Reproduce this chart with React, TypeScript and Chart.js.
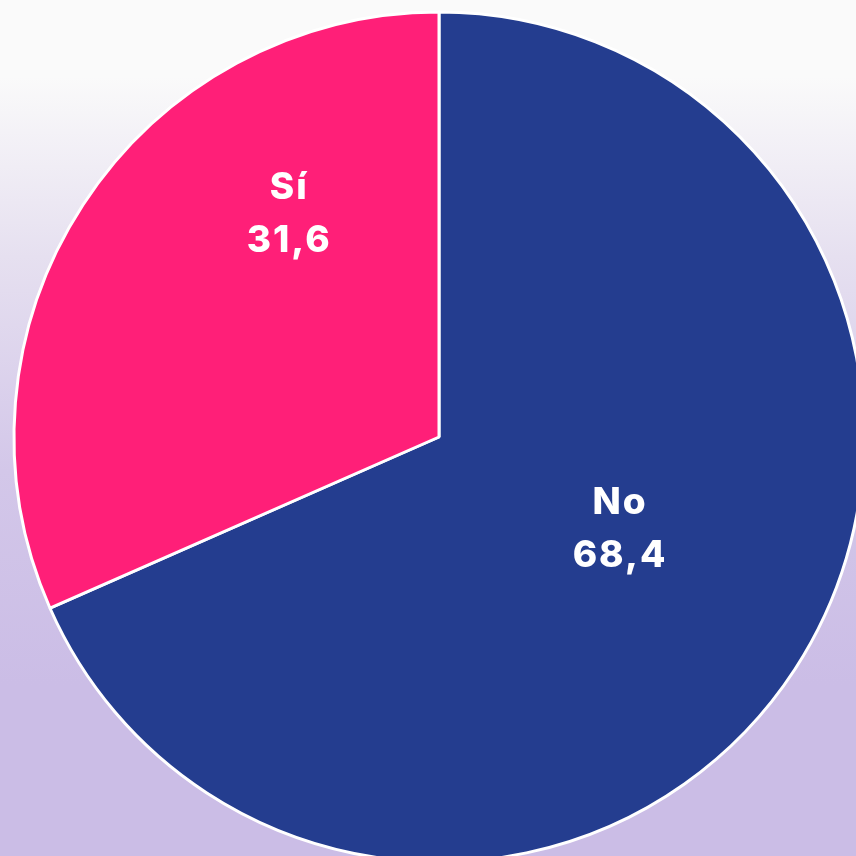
import React, { useEffect, useRef } from "react";
import { Chart, registerables } from "chart.js";

Chart.register(...registerables);

const categories = ["No", "Sí"];
const values = [68.4, 31.6];
const valueLabels = ["68,4", "31,6"];
const colors = ["#243d8f", "#ff1f78"];
// label placement relative to each slice: angle shift (deg) and radius fraction
const labelAngleShift = [-6, 22.8];
const labelRadiusFrac = [0.476, 0.633];

const labelPlugin = {
  id: "sliceLabels",
  afterDatasetsDraw(chart: any) {
    const ctx = chart.ctx;
    const meta = chart.getDatasetMeta(0);
    ctx.save();
    ctx.fillStyle = "#ffffff";
    ctx.textAlign = "center";
    ctx.textBaseline = "middle";
    ctx.font = "800 37px Inter, 'Noto Sans', sans-serif";
    try {
      (ctx as any).letterSpacing = "2px";
    } catch (e) {}
    meta.data.forEach((arc: any, i: number) => {
      const p = arc.getProps(["x", "y", "startAngle", "endAngle", "outerRadius"], true);
      const mid = (p.startAngle + p.endAngle) / 2 + (labelAngleShift[i] * Math.PI) / 180;
      const r = p.outerRadius * labelRadiusFrac[i];
      const x = p.x + Math.cos(mid) * r;
      const y = p.y + Math.sin(mid) * r;
      ctx.fillText(categories[i], x + 1, y - 26);
      ctx.fillText(valueLabels[i], x + 1, y + 27);
    });
    ctx.restore();
  },
};

export default function App() {
  const ref = useRef<HTMLCanvasElement | null>(null);
  useEffect(() => {
    document.body.style.margin = "0";
    document.body.style.overflow = "hidden";
    const chart = new Chart(ref.current as HTMLCanvasElement, {
      type: "pie",
      data: {
        labels: categories,
        datasets: [
          {
            data: values,
            backgroundColor: colors,
            borderColor: "#ffffff",
            borderWidth: 3,
          },
        ],
      },
      options: {
        animation: false,
        responsive: false,
        radius: 425,
        layout: { padding: { bottom: 4 } },
        plugins: { legend: { display: false }, tooltip: { enabled: false } },
      },
      plugins: [labelPlugin],
    });
    return () => chart.destroy();
  }, []);
  return (
    <div
      style={{
        position: "fixed",
        left: 0,
        top: 0,
        width: 856,
        height: 856,
        overflow: "hidden",
        background: "linear-gradient(to bottom, #fafafa 0%, #fafafa 9%, #e6e0f0 30%, #d3c7e9 55%, #cbbde6 80%, #cbbde6 100%)",
      }}
    >
      <canvas ref={ref} width={878} height={878} style={{ display: "block", width: 878, height: 878 }} />
    </div>
  );
}
